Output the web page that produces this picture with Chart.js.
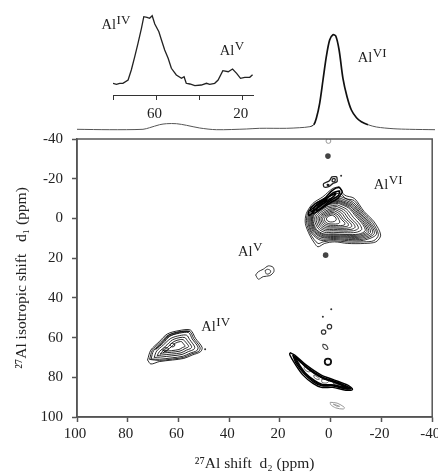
<!DOCTYPE html>
<html lang="en">
<head>
<meta charset="UTF-8">
<title>27Al MQMAS spectrum</title>
<script src="https://cdn.jsdelivr.net/npm/chart.js"></script>
<style>
    body { margin: 0; background: #fff; overflow: hidden; }
    #wrap { position: relative; width: 438px; height: 472px; filter: blur(0.4px); }
    canvas { position: absolute; left: 0; top: 0; }
</style>
</head>
<body>
<div id="wrap">
    <canvas id="mainChart" width="438" height="472"></canvas>
    <canvas id="topChart" width="438" height="131"></canvas>
    <canvas id="insetChart" width="438" height="125"></canvas>
</div>
<script>
// axis ticks
const shiftTicks = [100, 80, 60, 40, 20, 0, -20, -40];
const isoTicks = [-40, -20, 0, 20, 40, 60, 80, 100];
const insetTicks = [80, 60, 40, 20];
const insetTickLabels = ['', '60', '', '20'];

// 1D projection on top of the map
const topShift = [100, 87.2, 74.2, 71.6, 67.7, 65, 61.1, 57.2, 52, 45.5, 33.8, 28.6, 23.3, 18.1, 12.9, 9, 7.4, 6.4, 5.1, 3.8, 2.5, 1.2, -0.1, -1.2, -2.5, -4, -5.6, -7.3, -9.3, -11.2, -13.8, -17.1, -23.6, -30.1, -40];
const topIntensity = [1.7, 1.3, 1.7, 3.3, 6.3, 7.3, 7.3, 5.7, 3, 1.3, 2, 2.7, 2.7, 2.7, 3.3, 4.3, 6.3, 12.7, 27.7, 51, 74.3, 91, 96.3, 95, 81, 52.7, 34.3, 21, 13.3, 9.3, 6.3, 4, 2.3, 1.7, 1.3];

// zoomed inset of the Al IV and Al V region
const insetShift = [80, 78.4, 76.9, 75.4, 73, 71.5, 69.9, 68.4, 66.8, 65.7, 64.2, 63, 61.8, 60.6, 58.7, 57.5, 56, 54.4, 52.9, 50.6, 48.2, 47, 46, 44.3, 42, 39, 36.6, 35.1, 32.8, 31.2, 29, 26.5, 24.5, 22.6, 20.8, 18.8, 16.5, 15.2];
const insetIntensity = [11.7, 10.7, 11.7, 11.7, 15, 25, 38.3, 51.7, 66.7, 78.3, 77.7, 76.7, 79.3, 71, 63.3, 55, 45, 36.7, 26.7, 20, 16.7, 18.3, 11.7, 11, 9.3, 10, 11.7, 10.7, 11.7, 15, 24.3, 23.3, 26, 21.7, 16.7, 17.7, 17.7, 20.3];

// main Al VI peak, outer contour first
const alviRings = [
    [[-3.4,-16],[-5.4,-11.8],[-9.3,-10.1],[-13.2,-3.4],[-17.1,1.7],[-19.7,8.4],[-17.8,11.8],[-13.2,12.6],[-6.7,12.6],[-1.5,11.8],[2.4,12.6],[5,14.3],[6.3,12.6],[8.3,8.4],[10,2.5],[9.6,-2.5],[7,-7.6],[3.1,-10.9],[-0.8,-15.1]],
    [[-3.7,-13],[-6,-10],[-9.2,-9],[-12.8,-3],[-16.5,2],[-18.8,8.2],[-17,11.2],[-13,11.8],[-6.8,11.9],[-1.2,11.2],[3,11.8],[5,12.6],[7.9,8],[9.5,2.2],[9.1,-2.5],[6.5,-7],[2.5,-10.2]],
    [[-4,-11],[-9,-8],[-12.5,-2.5],[-16,2.5],[-18,8],[-13,11],[-7,11.2],[-1,10.6],[4,11],[7.5,7.5],[9,2],[8.6,-2.5],[6,-6.5],[2,-9.5]],
    [[-3.7,-10.2],[-8.7,-7.4],[-12.1,-2.1],[-15.5,2.7],[-17.2,7.6],[-12.8,10.4],[-7,10.6],[-1,10.1],[3.8,10.3],[7.2,7.2],[8.6,1.9],[8.2,-2.3],[5.7,-6],[1.9,-9]],
    [[-3.5,-9.5],[-8.5,-6.8],[-11.8,-1.8],[-15,2.8],[-16.5,7.3],[-12.5,9.8],[-7,10],[-1,9.6],[3.5,9.6],[6.8,6.8],[8.2,1.8],[7.8,-2.2],[5.4,-5.6],[1.8,-8.4]],
    [[-3.3,-9],[-8.1,-6.4],[-11.4,-1.5],[-14.4,2.9],[-15.7,7],[-12.1,9.3],[-6.8,9.5],[-1,9.1],[3.2,9.2],[6.5,6.5],[7.8,1.7],[7.5,-2],[5.1,-5.3],[1.6,-8]],
    [[-3.2,-8.6],[-7.8,-6],[-11,-1.2],[-13.8,3],[-15,6.8],[-11.8,8.8],[-6.5,9],[-1,8.7],[3,8.7],[6.2,6.2],[7.5,1.6],[7.2,-1.9],[4.9,-5],[1.5,-7.6]],
    [[-3.1,-8.1],[-7.4,-5.6],[-10.5,-1],[-13.2,3],[-14.3,6.5],[-11.4,8.3],[-6.2,8.5],[-1,8.2],[2.8,8.2],[5.9,5.9],[7.2,1.5],[6.9,-1.8],[4.6,-4.7],[1.4,-7.2]],
    [[-3,-7.6],[-7.1,-5.2],[-10,-0.8],[-12.6,3],[-13.6,6.2],[-11,7.9],[-6,8.1],[-1,7.8],[2.7,7.8],[5.6,5.6],[6.9,1.4],[6.6,-1.7],[4.4,-4.4],[1.3,-6.8]],
    [[-2.7,-6.8],[-6.4,-4.5],[-9,-0.4],[-11.4,2.9],[-12.2,5.6],[-10,7],[-5.5,7.2],[-1,7],[2.4,7],[5,5],[6.3,1.2],[6,-1.5],[3.9,-3.9],[1.1,-6]],
    [[-2.4,-6],[-5.7,-3.9],[-8,0],[-10.2,2.8],[-10.9,5],[-9,6.2],[-5,6.4],[-1,6.2],[2.1,6.2],[4.5,4.5],[5.7,1],[5.4,-1.3],[3.5,-3.4],[0.9,-5.3]],
    [[-2.1,-5.2],[-5,-3.3],[-7,0.2],[-9,2.6],[-9.6,4.5],[-8,5.5],[-4.5,5.7],[-1,5.5],[1.8,5.5],[4,4],[5,0.9],[4.8,-1.1],[3,-2.9],[0.7,-4.6]],
    [[-1.8,-4.5],[-4.3,-2.7],[-6,0.3],[-7.8,2.4],[-8.3,4],[-7,4.8],[-4,5],[-1,4.8],[1.5,4.8],[3.5,3.5],[4.4,0.8],[4.2,-0.9],[2.6,-2.5],[0.5,-4]],
    [[-1.5,-3.8],[-3.6,-2.2],[-5,0.4],[-6.6,2.2],[-7,3.5],[-6,4.1],[-3.5,4.3],[-1,4.2],[1.2,4.1],[3,3],[3.8,0.7],[3.6,-0.8],[2.2,-2.1],[0.3,-3.4]],
    [[-1.2,-3],[-3,-1.7],[-4.2,0.5],[-5.4,2],[-5.6,3],[-4.8,3.5],[-3,3.6],[-1,3.5],[0.9,3.4],[2.5,2.5],[3.2,0.6],[3,-0.6],[1.8,-1.7],[0.1,-2.8]],
    [[-1,-2.3],[-2.4,-1.2],[-3.2,0.6],[-3.6,1.9],[-2.8,2.7],[-1,2.8],[0.7,2.7],[2,1.9],[2.5,0.5],[2.3,-0.5],[1.3,-1.4],[0,-2.2]],
    [[-0.7,-1.6],[-1.8,-0.7],[-2.2,0.6],[-1.5,1.5],[0,1.8],[1.2,1.3],[1.7,0.3],[1.4,-0.6],[0.3,-1.4]]
];

// dark ridge on the upper left of the Al VI peak
const alviRidge = [
    [[-4.7,-13.4],[-3.4,-15.5],[-0.8,-14.3],[2.4,-10.1],[6.3,-5.9],[7,-2.5],[4.4,-4.2],[0.5,-7.6],[-2.8,-10.1]],
    [[-3.6,-14],[-1,-13],[2,-9.6],[5,-6],[5.5,-4],[3.5,-5.5],[0.3,-8.8],[-3,-11.5]],
    [[6,-7.5],[3,-9.5],[0.5,-11],[-2,-12.8],[-1.5,-11.5],[1,-9],[4,-6.5],[7.5,-3.5],[8,-5]],
    [[8.8,-3.5],[5,-7],[1.5,-9.5],[2.5,-8],[5.5,-5],[8.5,-1.5]]
];

const alviSatellite = [
    [[-2.4,-21],[-0.5,-20.9],[0.5,-19],[2.8,-17.5],[2.6,-15.8],[0.8,-16],[-0.8,-17.5],[-2.5,-18.5]],
    [[-1.8,-20],[-0.8,-20],[-0.6,-18.7],[-1.6,-18.5]],
    [[1.5,-17.2],[1.2,-16.5],[0.7,-16.9]]
];

const alvRings = [
    [[29.6,28.5],[28.5,26.8],[26.6,25.6],[24.6,23.9],[22.7,24.6],[22.4,26.8],[24,28.8],[26.6,29.3],[28.5,30.6]],
    [[25.9,26.3],[24.9,25.6],[23.7,26.3],[24,27.6],[25.3,28]]
];

const alivRings = [
    [[72.2,71.3],[70.9,66.3],[67.6,62.1],[64.4,58.2],[59.8,56.5],[55.3,56.2],[53.3,60.4],[50.7,64.9],[51.3,67.1],[54.6,68.8],[57.9,70.5],[62.4,71.3],[67.6,72.1],[70.9,73.3]],
    [[71.4,71],[70.3,66.4],[67.2,62.5],[64.1,58.8],[59.7,57.1],[55.6,56.9],[54,60.5],[51.5,64.9],[52,66.9],[55,68.3],[58,70],[62.4,70.8],[67.5,71.5]],
    [[70.8,70.8],[69.8,66.6],[66.8,63],[63.8,59.4],[59.6,57.8],[56,57.5],[54.6,60.7],[52.3,64.8],[52.8,66.6],[55.3,67.8],[58.2,69.4],[62.5,70.2],[67.4,70.9]],
    [[69.6,70],[68.6,66.8],[66,63.8],[63,60.4],[59.5,59],[56.8,58.8],[55.6,61],[53.6,64.7],[54,66],[56,67],[58.6,68.5],[62.6,69.2],[67,69.8]],
    [[68.4,69.2],[67.5,67],[65.2,64.5],[62.4,61.2],[59.4,60],[57.5,60],[56.5,61.5],[54.8,64.6],[55.2,65.5],[56.8,66.3],[59,67.7],[62.6,68.3],[66.6,68.8]],
    [[67.2,68.4],[66.4,67],[64.4,65],[61.8,62],[59.3,61],[58.1,61.1],[57.3,62.1],[56,64.5],[57.4,65.5],[59.4,66.8],[62.7,67.4],[66.2,67.8]],
    [[66,67.6],[65.2,66.8],[63.5,65.4],[61.2,62.8],[59.2,62],[58.6,62.2],[58.2,62.9],[57.4,64.4],[58.4,65],[59.8,66],[62.8,66.6],[65.6,67]],
    [[69,66],[66.5,62.5],[63.8,58.9],[59.7,57.1],[55.6,56.9],[59.7,57.5],[63.5,59.4],[66,62.8]],
    [[63.4,63.6],[62.6,62.8],[61.5,63.2],[61.6,64.3],[62.6,64.7]],
    [[66.3,66.4],[65.5,65.2],[64.2,65.2],[63.9,66],[64.9,66.7]]
];

// diagonal ridge at the lower right
const ridgeRings = [
    [[16.1,67.6],[14.2,68.8],[9.6,73.9],[3.7,78.9],[-1.5,81.4],[-6.7,84],[-8.6,86.1],[-6,86.5],[-0.8,85.1],[3.7,85.1],[7,83.1],[10.9,78.9],[14.2,73],[16.1,68.8]],
    [[15,68.8],[13.5,70],[9.3,75],[3.5,79.8],[-1.5,82],[-6.5,84.6],[-7.8,85.8],[-5.8,85.8],[-1,84.4],[3.5,84.3],[6.7,82.4],[10.4,78.4],[13.6,73]],
    [[14.5,69.5],[12.8,71],[9,75.5],[3.4,80.2],[-1.5,82.4],[-6.5,85],[-7.2,85.6],[-5.6,85.6],[-1.1,84.1],[3.4,84],[6.5,82],[10.2,78.1],[13.3,72.6]],
    [[13.8,70],[9,75.8],[3.3,80.4],[-1.5,82.6],[-6.4,85.2],[-5.6,85.3],[-1.2,83.8],[3.3,83.6],[6.3,81.7],[10,77.8],[13,72.4]]
];

// small closed loops sitting in the ridge
const ridgeLoops = [
    [[13.4,70.3],[12.6,70.8],[11.6,72.2],[12.2,72.8],[13.1,71.6]],
    [[10.4,74.5],[8.6,76],[8,77],[9,77.2],[10.4,75.8]],
    [[6.6,78.8],[5,80],[4.5,81],[5.4,81],[6.6,80]],
    [[3.6,81.2],[2,81.1],[0.8,82.1],[1.8,82.9],[3.4,82.6]],
    [[-1,82.9],[-3,83.7],[-3.4,84.2],[-1.6,83.8]]
];

const smallEllipse = [[3.2,63.4],[2,63.6],[1.1,65.4],[1.6,66],[2.9,65]];
const greyRings = [
    [[0.2,92.6],[-2.5,93],[-5.4,95.2],[-5,96],[-2,95.4],[0,93.8]],
    [[-1,93.5],[-3.5,94.6],[-2.5,94.6]]
];

// single spots [shift d2, shift d1]
const tinySpots = [[-0.2,45.8],[3.1,49.5],[-4.1,-21.5],[49.5,65.9]];
const ringSpots = [[0.5,54.5],[2.8,57.2]];
const thickSpots = [[1.1,72.2]];
const darkSpots = [[1.1,-31.4],[2,18.5]];
const greySpots = [[0.9,-39]];

// peak labels: [shift, value, superscript]
const mapLabels = [[-17,-15,'VI'],[36.5,19,'V'],[51,56.5,'IV']];
const topLabels = [[-9.8,69,'VI']];
const insetLabels = [[85.3,66,'IV'],[30.4,40,'V']];

const serif = '"Liberation Serif", serif';
const ink = '#222';
const axisGrey = '#555';

function toPoints(pairs) {
    return pairs.map(p => ({ x: p[0], y: p[1] }));
}

function contour(pairs, color, width) {
    return {
        data: toPoints(pairs.concat([pairs[0]])),
        showLine: true,
        borderColor: color,
        borderWidth: width,
        tension: 0.3,
        pointRadius: 0
    };
}

function spots(pairs, radius, fill, stroke, width) {
    return {
        data: toPoints(pairs),
        showLine: false,
        pointRadius: radius,
        pointBackgroundColor: fill,
        pointBorderColor: stroke,
        pointBorderWidth: width
    };
}

// draws "Al" with a raised roman numeral at a data position
function peakLabelPlugin(labels, xId, yId) {
    return {
        id: 'peakLabels',
        afterDraw(chart) {
            const c = chart.ctx;
            c.save();
            c.fillStyle = ink;
            c.textBaseline = 'alphabetic';
            labels.forEach(l => {
                const px = chart.scales[xId].getPixelForValue(l[0]);
                const py = chart.scales[yId].getPixelForValue(l[1]);
                c.font = '14.5px ' + serif;
                c.fillText('Al', px, py);
                const w = c.measureText('Al').width;
                c.font = '13px ' + serif;
                c.fillText(l[2], px + w + 0.5, py - 5);
            });
            c.restore();
        }
    };
}

const framePlugin = {
    id: 'frame',
    afterDraw(chart) {
        const a = chart.chartArea;
        const c = chart.ctx;
        c.save();
        c.strokeStyle = axisGrey;
        c.lineWidth = 1.5;
        c.strokeRect(a.left, a.top, a.right - a.left, a.bottom - a.top);
        c.restore();
    }
};

const baseOptions = { responsive: false, animation: false, devicePixelRatio: 1 };

const mapDatasets = []
    .concat(alviRings.map(r => contour(r, '#000', 0.8)))
    .concat(alviRidge.map(r => contour(r, '#000', 1.5)))
    .concat(alviSatellite.map(r => contour(r, '#222', 1.3)))
    .concat(alvRings.map(r => contour(r, '#333', 1)))
    .concat(alivRings.map(r => contour(r, '#111', 0.9)))
    .concat(ridgeRings.map(r => contour(r, '#000', 1.4)))
    .concat(ridgeLoops.map(r => contour(r, '#444', 0.8)))
    .concat(greyRings.map(r => contour(r, '#999', 1)))
    .concat([
        contour(smallEllipse, '#444', 1.1),
        spots(tinySpots, 1, '#333', '#333', 0),
        spots(ringSpots, 2.2, '#fff', '#333', 1.2),
        spots(thickSpots, 3.2, '#fff', '#111', 1.8),
        spots(darkSpots, 2.8, '#444', '#444', 0),
        spots(greySpots, 2.4, '#fff', '#999', 1)
    ]);

new Chart(document.getElementById('mainChart'), {
    type: 'scatter',
    data: { datasets: mapDatasets },
    options: {
        ...baseOptions,
        layout: { padding: { left: 0, top: 139, right: 3, bottom: 0 } },
        plugins: { legend: { display: false }, tooltip: { enabled: false } },
        scales: {
            x: {
                min: -40,
                max: 100,
                reverse: true,
                afterBuildTicks: s => { s.ticks = shiftTicks.map(v => ({ value: v })); },
                afterFit: s => { s.height = 55; s.paddingLeft = 0; s.paddingRight = 0; },
                grid: { drawOnChartArea: false, tickLength: 5, tickColor: axisGrey, tickWidth: 1.5 },
                border: { color: axisGrey, width: 1.5 },
                ticks: { color: ink, autoSkip: false, maxRotation: 0, padding: 3, labelOffset: -2, font: { family: serif, size: 15 } },
                title: { display: true, text: '²⁷Al shift  d₂ (ppm)', color: ink, padding: { top: 0, bottom: 0 }, font: { family: serif, size: 15.5, lineHeight: 1 } }
            },
            y: {
                min: -40,
                max: 100,
                reverse: true,
                afterBuildTicks: s => { s.ticks = isoTicks.map(v => ({ value: v })); },
                afterFit: s => { s.width = 77; s.paddingTop = 0; s.paddingBottom = 0; },
                grid: { drawOnChartArea: false, tickLength: 5, tickColor: axisGrey, tickWidth: 1.5 },
                border: { color: axisGrey, width: 1.5 },
                ticks: { color: ink, autoSkip: false, padding: 9, font: { family: serif, size: 15 } },
                title: { display: true, text: '²⁷Al isotropic shift   d₁ (ppm)', color: ink, padding: { top: 14, bottom: 0 }, font: { family: serif, size: 15.5, lineHeight: 1 } }
            }
        }
    },
    plugins: [framePlugin, peakLabelPlugin(mapLabels, 'x', 'y')]
});

new Chart(document.getElementById('topChart'), {
    type: 'scatter',
    data: {
        datasets: [{
            data: topShift.map((v, i) => ({ x: v, y: topIntensity[i] })),
            showLine: true,
            tension: 0.3,
            pointRadius: 0,
            borderColor: '#111',
            borderWidth: 1.7,
            segment: {
                borderWidth: c => (c.p0.parsed.y > 5 && c.p1.parsed.y > 5 && c.p0.parsed.x < 10) ? 1.7 : 1,
                borderColor: c => (c.p0.parsed.x < 10 && c.p1.parsed.y > 5) ? '#111' : '#555'
            }
        }]
    },
    options: {
        ...baseOptions,
        layout: { padding: { left: 77, top: 0, right: 3, bottom: 0 } },
        plugins: { legend: { display: false }, tooltip: { enabled: false } },
        scales: {
            x: { min: -40, max: 100, reverse: true, display: false },
            y: { min: 0, max: 131, display: false }
        }
    },
    plugins: [peakLabelPlugin(topLabels, 'x', 'y')]
});

new Chart(document.getElementById('insetChart'), {
    type: 'scatter',
    data: {
        datasets: [{
            data: insetShift.map((v, i) => ({ x: v, y: insetIntensity[i] })),
            showLine: true,
            tension: 0,
            pointRadius: 0,
            borderColor: '#222',
            borderWidth: 1.3
        }]
    },
    options: {
        ...baseOptions,
        layout: { padding: { left: 113, top: 0, right: 185, bottom: 0 } },
        plugins: { legend: { display: false }, tooltip: { enabled: false } },
        scales: {
            x: {
                min: 15,
                max: 80,
                reverse: true,
                afterBuildTicks: s => { s.ticks = insetTicks.map(v => ({ value: v })); },
                afterFit: s => { s.height = 30; s.paddingLeft = 0; s.paddingRight = 0; },
                grid: { drawOnChartArea: false, tickLength: 5, tickColor: '#333', tickWidth: 1 },
                border: { color: '#333', width: 1 },
                ticks: {
                    color: ink,
                    autoSkip: false,
                    maxRotation: 0,
                    padding: 5,
                    labelOffset: -1.5,
                    font: { family: serif, size: 15 },
                    callback: (v, i) => insetTickLabels[i]
                }
            },
            y: { min: 0, max: 95, display: false }
        }
    },
    plugins: [peakLabelPlugin(insetLabels, 'x', 'y')]
});
</script>
</body>
</html>
